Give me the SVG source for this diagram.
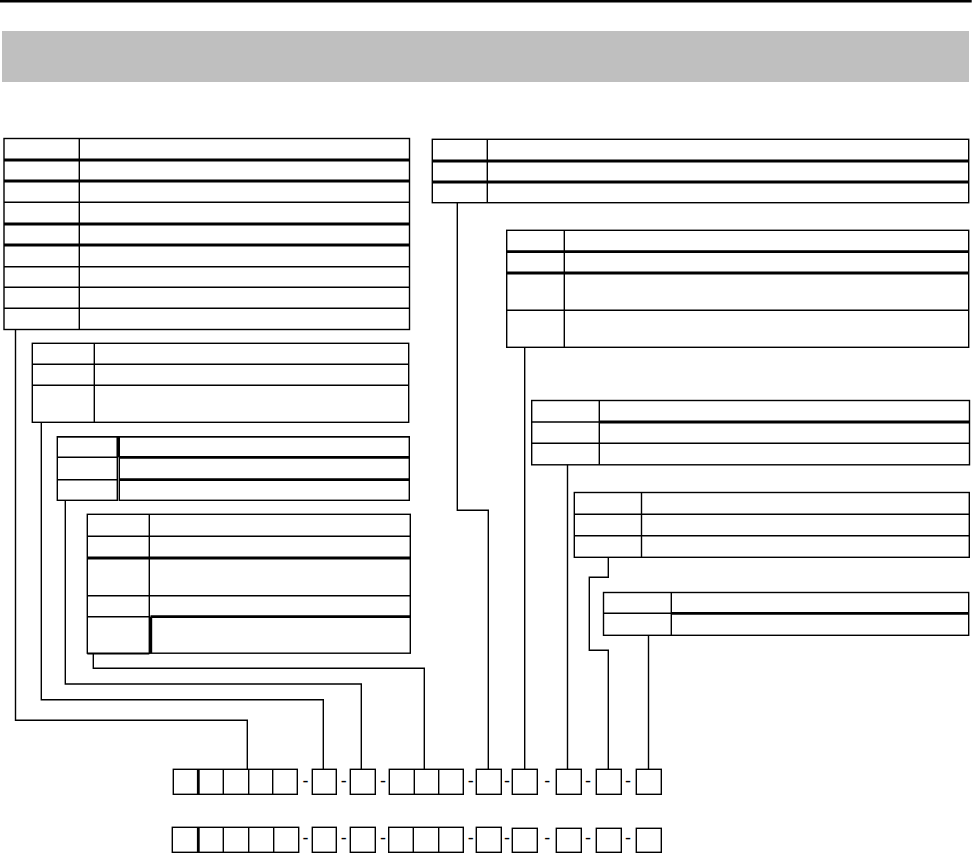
<svg xmlns="http://www.w3.org/2000/svg" width="973" height="853" viewBox="0 0 973 853">
<style>
.t{fill:none;stroke:#000;stroke-width:1.4}
.k{fill:none;stroke:#000;stroke-width:2.8}
.c{fill:none;stroke:#000;stroke-width:1.4}
.d{font-family:"Liberation Sans",Arial,sans-serif;font-size:18px;fill:#000;text-anchor:middle}
</style>
<rect width="973" height="853" fill="#fff"/>
<g id="header">
<line x1="0" y1="1.2" x2="971.7" y2="1.2" stroke="#000" stroke-width="2.5"/>
<rect x="2" y="31" width="967" height="51" fill="#bfbfbf"/>
</g>
<g id="tableL1">
<rect class="t" x="4" y="138.5" width="405.5" height="191"/>
<line class="t" x1="79.3" y1="138.5" x2="79.3" y2="329.5"/>
<line class="k" x1="4" y1="160" x2="409.5" y2="160"/>
<line class="k" x1="4" y1="181" x2="409.5" y2="181"/>
<line class="t" x1="4" y1="202.3" x2="409.5" y2="202.3"/>
<line class="k" x1="4" y1="224" x2="409.5" y2="224"/>
<line class="k" x1="4" y1="245" x2="409.5" y2="245"/>
<line class="t" x1="4" y1="266.7" x2="409.5" y2="266.7"/>
<line class="t" x1="4" y1="287.3" x2="409.5" y2="287.3"/>
<line class="t" x1="4" y1="308.3" x2="409.5" y2="308.3"/>
</g>
<g id="tableL2">
<rect class="t" x="32.3" y="343.3" width="376.4" height="79"/>
<line class="t" x1="94.3" y1="343.3" x2="94.3" y2="422.3"/>
<line class="t" x1="32.3" y1="364.3" x2="408.7" y2="364.3"/>
<line class="t" x1="32.3" y1="385.3" x2="408.7" y2="385.3"/>
</g>
<g id="tableL3">
<rect class="t" x="57.3" y="436.7" width="60" height="63.6"/>
<rect class="t" x="119.3" y="436.7" width="290" height="63.6"/>
<line class="t" x1="57.3" y1="436.7" x2="409.3" y2="436.7"/>
<line class="k" x1="118.2" y1="436.7" x2="118.2" y2="457.3"/>
<line class="t" x1="57.3" y1="457.3" x2="117.3" y2="457.3"/>
<line class="t" x1="57.3" y1="479.7" x2="117.3" y2="479.7"/>
<line class="k" x1="119.3" y1="457.3" x2="409.3" y2="457.3"/>
<line class="k" x1="119.3" y1="479.7" x2="409.3" y2="479.7"/>
</g>
<g id="tableL4">
<rect class="t" x="87.3" y="514.3" width="323" height="138.9"/>
<line class="t" x1="87.3" y1="653.7" x2="149.3" y2="653.7"/>
<line class="t" x1="149.3" y1="514.3" x2="149.3" y2="653.7"/>
<line class="t" x1="87.3" y1="536.3" x2="410.3" y2="536.3"/>
<line class="k" x1="87.3" y1="558" x2="410.3" y2="558"/>
<line class="t" x1="87.3" y1="595.7" x2="410.3" y2="595.7"/>
<line class="t" x1="87.3" y1="616.7" x2="149.3" y2="616.7"/>
<line class="k" x1="150.5" y1="616.7" x2="410.3" y2="616.7"/>
<line class="k" x1="150.8" y1="616.7" x2="150.8" y2="653"/>
</g>
<g id="tableR1">
<rect class="t" x="432.3" y="139.3" width="536.4" height="63.4"/>
<line class="t" x1="487.3" y1="139.3" x2="487.3" y2="202.7"/>
<line class="k" x1="432.3" y1="161" x2="968.7" y2="161"/>
<line class="k" x1="432.3" y1="182" x2="968.7" y2="182"/>
</g>
<g id="tableR2">
<rect class="t" x="506.7" y="230.3" width="462" height="117"/>
<line class="t" x1="564.3" y1="230.3" x2="564.3" y2="347.3"/>
<line class="k" x1="506.7" y1="251.7" x2="968.7" y2="251.7"/>
<line class="k" x1="506.7" y1="273" x2="968.7" y2="273"/>
<line class="t" x1="506.7" y1="310.3" x2="968.7" y2="310.3"/>
</g>
<g id="tableR3">
<rect class="t" x="531.7" y="400.5" width="437.8" height="64.3"/>
<line class="t" x1="599.3" y1="400.5" x2="599.3" y2="464.8"/>
<line class="t" x1="531.7" y1="422" x2="599.3" y2="422"/>
<line class="k" x1="599.3" y1="422" x2="969.5" y2="422"/>
<line class="t" x1="531.7" y1="443.3" x2="969.5" y2="443.3"/>
</g>
<g id="tableR4">
<rect class="t" x="574.3" y="492.5" width="395" height="64.8"/>
<line class="t" x1="641.5" y1="492.5" x2="641.5" y2="557.3"/>
<line class="t" x1="574.3" y1="514.3" x2="969.3" y2="514.3"/>
<line class="t" x1="574.3" y1="535.7" x2="969.3" y2="535.7"/>
</g>
<g id="tableR5">
<rect class="t" x="603.5" y="592.5" width="365.2" height="42.8"/>
<line class="t" x1="671.3" y1="592.5" x2="671.3" y2="635.3"/>
<line class="t" x1="603.5" y1="613.3" x2="671.3" y2="613.3"/>
<line class="k" x1="671.3" y1="613.3" x2="968.7" y2="613.3"/>
</g>
<g id="connectors">
<path class="c" d="M15.5 329.5 V720.3 H247.3 V769.3"/>
<path class="c" d="M41.3 422.3 V699.7 H323.3 V769.3"/>
<path class="c" d="M65.3 500.3 V684 H361.3 V769.3"/>
<path class="c" d="M93.3 653.7 V668.3 H424.3 V769.3"/>
<path class="c" d="M457.3 202.7 V510.3 H488.3 V769.3"/>
<path class="c" d="M524.7 347.3 V769.3"/>
<path class="c" d="M567.5 464.8 V769.3"/>
<path class="c" d="M608.3 557.3 V577.3 H589.3 V650.3 H608.3 V769.3"/>
<path class="c" d="M648.5 635.3 V769.3"/>
</g>
<g id="code-row-1">
<rect class="t" x="173.3" y="769.3" width="124" height="25"/>
<line class="k" x1="198.3" y1="769.3" x2="198.3" y2="794.3"/>
<line class="t" x1="223.3" y1="769.3" x2="223.3" y2="794.3"/>
<line class="t" x1="248.7" y1="769.3" x2="248.7" y2="794.3"/>
<line class="t" x1="272.7" y1="769.3" x2="272.7" y2="794.3"/>
<rect class="t" x="312.3" y="769.3" width="24" height="25"/>
<rect class="t" x="350.3" y="769.3" width="25" height="25"/>
<rect class="t" x="389.3" y="769.3" width="74" height="25"/>
<line class="t" x1="414.3" y1="769.3" x2="414.3" y2="794.3"/>
<line class="t" x1="438.7" y1="769.3" x2="438.7" y2="794.3"/>
<rect class="t" x="476.3" y="769.3" width="25" height="25"/>
<rect class="t" x="512.3" y="769.3" width="25" height="25"/>
<rect class="t" x="556.3" y="769.3" width="25" height="25"/>
<rect class="t" x="596.3" y="769.3" width="25" height="25"/>
<rect class="t" x="636.3" y="769.3" width="25" height="25"/>
<text class="d" x="305.5" y="786.6">-</text>
<text class="d" x="343.7" y="786.6">-</text>
<text class="d" x="383" y="786.6">-</text>
<text class="d" x="470.8" y="786.6">-</text>
<text class="d" x="507" y="786.6">-</text>
<text class="d" x="547.2" y="786.6">-</text>
<text class="d" x="588" y="786.6">-</text>
<text class="d" x="628" y="786.6">-</text>
</g>
<g id="code-row-2">
<rect class="t" x="172.3" y="827.3" width="126.4" height="25"/>
<line class="k" x1="198.3" y1="827.3" x2="198.3" y2="852.3"/>
<line class="t" x1="223.3" y1="827.3" x2="223.3" y2="852.3"/>
<line class="t" x1="248.7" y1="827.3" x2="248.7" y2="852.3"/>
<line class="t" x1="273.7" y1="827.3" x2="273.7" y2="852.3"/>
<rect class="t" x="312.3" y="827.3" width="24" height="25"/>
<rect class="t" x="350.3" y="827.3" width="25" height="25"/>
<rect class="t" x="388.7" y="827.3" width="74.6" height="25"/>
<line class="t" x1="413.3" y1="827.3" x2="413.3" y2="852.3"/>
<line class="t" x1="438.7" y1="827.3" x2="438.7" y2="852.3"/>
<rect class="t" x="476.3" y="827.3" width="25" height="25"/>
<rect class="t" x="512.3" y="828.3" width="25" height="24"/>
<rect class="t" x="556.3" y="828.3" width="25" height="24"/>
<rect class="t" x="596.3" y="828.3" width="25" height="24"/>
<rect class="t" x="636.3" y="828.3" width="25" height="24"/>
<text class="d" x="305.5" y="844.2">-</text>
<text class="d" x="343.7" y="844.2">-</text>
<text class="d" x="383" y="844.2">-</text>
<text class="d" x="470.8" y="844.2">-</text>
<text class="d" x="507" y="844.2">-</text>
<text class="d" x="547.2" y="844.2">-</text>
<text class="d" x="588" y="844.2">-</text>
<text class="d" x="628" y="844.2">-</text>
</g>
</svg>
